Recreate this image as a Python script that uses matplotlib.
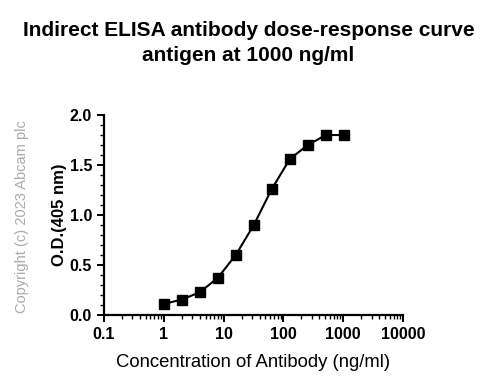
import matplotlib
matplotlib.use("Agg")
import matplotlib.pyplot as plt
from matplotlib.ticker import LogLocator, MultipleLocator, FixedLocator, FixedFormatter

plt.rcParams['font.family'] = ['Liberation Sans', 'DejaVu Sans']

conc = [1, 2, 4, 8, 16, 32, 64, 128, 256, 512, 1024]
od = [0.11, 0.154, 0.227, 0.371, 0.60, 0.90, 1.26, 1.56, 1.70, 1.80, 1.80]
xticks = [0.1, 1, 10, 100, 1000, 10000]
xtick_labels = ['0.1', '1', '10', '100', '1000', '10000']

fig = plt.figure(figsize=(4.97, 3.86), dpi=100)
ax = fig.add_axes([0.209, 0.184, 0.602, 0.518])

ax.plot(conc, od, color='black', lw=1.5, marker='s', ms=6.5, clip_on=False)

ax.set_xscale('log')
ax.set_xlim(0.1, 10000)
ax.set_ylim(0, 2.0)
ax.xaxis.set_major_locator(FixedLocator(xticks))
ax.xaxis.set_major_formatter(FixedFormatter(xtick_labels))
ax.xaxis.set_minor_locator(LogLocator(base=10, subs=range(2, 10), numticks=20))
ax.yaxis.set_major_locator(MultipleLocator(0.5))
ax.yaxis.set_minor_locator(MultipleLocator(0.1))
ax.yaxis.set_major_formatter(plt.FuncFormatter(lambda v, p: f"{v:.1f}"))

for s in ['top', 'right']:
    ax.spines[s].set_visible(False)
for s in ['left', 'bottom']:
    ax.spines[s].set_linewidth(1.6)

ax.tick_params(which='major', length=5, width=1.4, labelsize=11.5)
ax.tick_params(which='minor', length=3, width=1.0)
for lbl in ax.get_xticklabels() + ax.get_yticklabels():
    lbl.set_fontweight('bold')

ax.set_xlabel('Concentration of Antibody (ng/ml)', fontsize=13.3, labelpad=9)
ax.set_ylabel('O.D.(405 nm)', fontsize=12, fontweight='bold', labelpad=2)

fig.text(0.5, 0.945, 'Indirect ELISA antibody dose-response curve\nantigen at 1000 ng/ml',
         ha='center', va='top', fontsize=15, fontweight='bold', linespacing=1.4)
fig.text(0.045, 0.44, 'Copyright (c) 2023 Abcam plc', rotation=90, ha='center', va='center',
         fontsize=10.5, color='#aaaaaa')

fig.savefig('out.png', dpi=100)
